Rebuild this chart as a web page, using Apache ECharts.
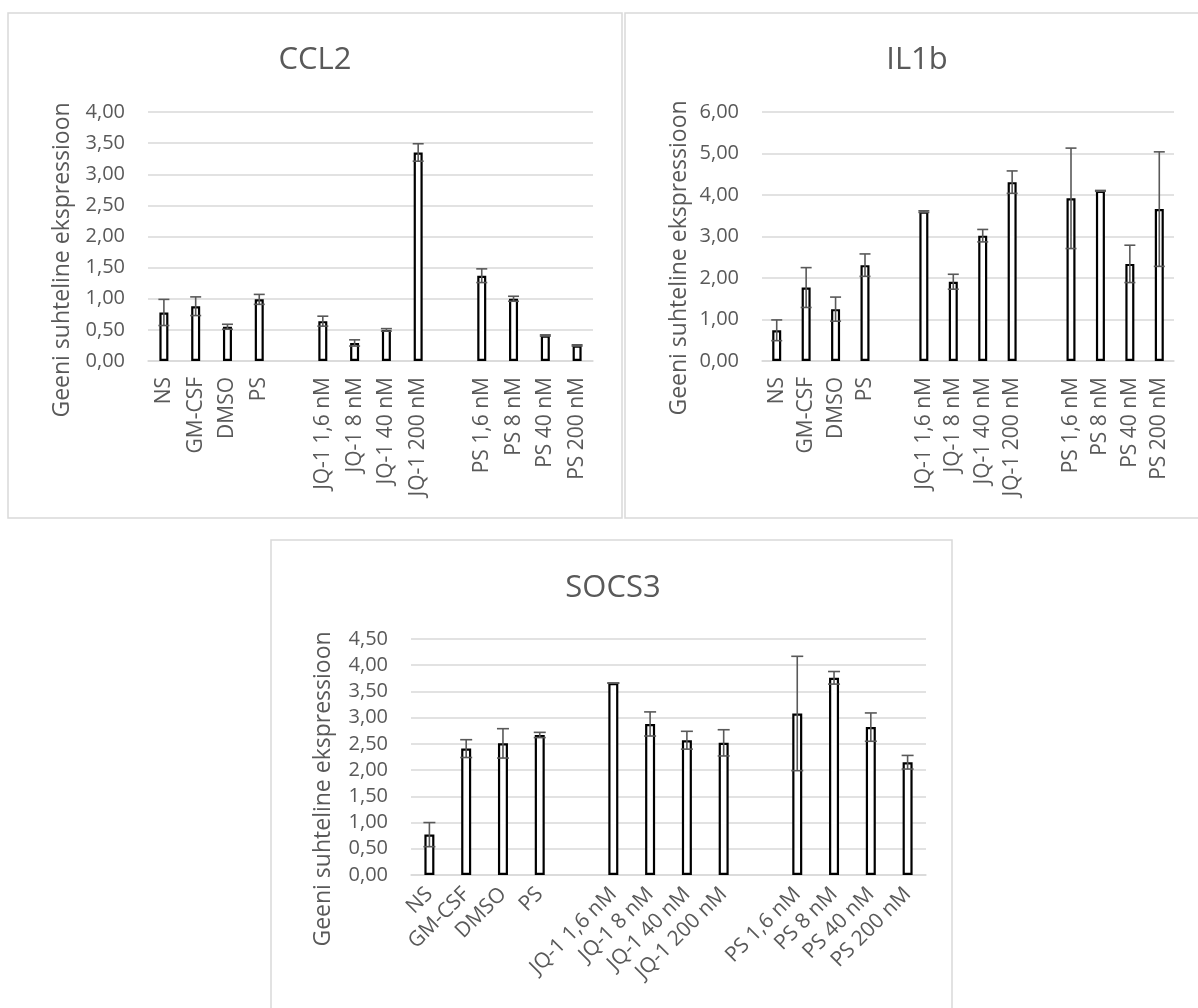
<!DOCTYPE html>
<html>
<head>
<meta charset="utf-8">
<script src="https://cdn.jsdelivr.net/npm/echarts@6/dist/echarts.min.js"></script>
<style>
html,body{margin:0;padding:0;background:#fff;overflow:hidden;}
#c{width:1198px;height:1008px;}
</style>
</head>
<body>
<div id="c"></div>
<script>
// Categories (blank entries are the empty spacer categories in the original chart)
const categories = ['NS','GM-CSF','DMSO','PS','','JQ-1 1,6 nM','JQ-1 8 nM','JQ-1 40 nM','JQ-1 200 nM','','PS 1,6 nM','PS 8 nM','PS 40 nM','PS 200 nM'];

// CCL2
const ccl2Values = [0.78, 0.88, 0.55, 0.99, null, 0.64, 0.29, 0.50, 3.35, null, 1.37, 1.00, 0.41, 0.25];
const ccl2Errors = [0.21, 0.15, 0.04, 0.08, null, 0.08, 0.05, 0.02, 0.14, null, 0.11, 0.04, 0.01, 0.01];
// IL1b
const il1bValues = [0.74, 1.77, 1.25, 2.31, null, 3.60, 1.91, 3.02, 4.31, null, 3.92, 4.10, 2.34, 3.66];
const il1bErrors = [0.25, 0.48, 0.29, 0.27, null, 0.02, 0.18, 0.15, 0.27, null, 1.21, 0.01, 0.45, 1.38];
// SOCS3
const socs3Values = [0.77, 2.41, 2.51, 2.67, null, 3.66, 2.88, 2.57, 2.52, null, 3.08, 3.76, 2.82, 2.15];
const socs3Errors = [0.23, 0.17, 0.28, 0.05, null, 0.00, 0.23, 0.17, 0.25, null, 1.09, 0.12, 0.27, 0.13];

const titles = ['CCL2', 'IL1b', 'SOCS3'];
const yAxisTitle = 'Geeni suhteline ekspressioon';
const yMax = [4, 6, 4.5];
const yInterval = [0.5, 1, 0.5];

const FONT = 'Open Sans';
const TXT = '#595959';
const GRID = '#d9d9d9';

function fmt(v){ return v.toFixed(2).replace('.', ','); }

function errData(vals, errs){
  const out = [];
  vals.forEach((v,i)=>{ if(v!==null && v!==undefined) out.push([i, v, errs[i]]); });
  return out;
}

function makeErrRender(half){
  return function(params, api){
    const x = api.value(0), v = api.value(1), e = api.value(2);
    const top = api.coord([x, v + e]);
    const bot = api.coord([x, v - e]);
    const st = {stroke:'#595959', lineWidth:1.6, fill:null};
    return {type:'group', children:[
      {type:'line', shape:{x1:top[0], y1:top[1], x2:bot[0], y2:bot[1]}, style:st},
      {type:'line', shape:{x1:top[0]-half, y1:top[1], x2:top[0]+half, y2:top[1]}, style:st},
      {type:'line', shape:{x1:bot[0]-half, y1:bot[1], x2:bot[0]+half, y2:bot[1]}, style:st}
    ]};
  };
}

const grids = [
  {left:148, top:112, width:445, height:249},
  {left:762, top:112, width:412, height:249},
  {left:411, top:639, width:515, height:236}
];

const valueSets = [ccl2Values, il1bValues, socs3Values];
const errSets = [ccl2Errors, il1bErrors, socs3Errors];
const barWidths = [9, 9, 10];
const rotations = [90, 90, 45];

const xAxes = [], yAxes = [], series = [];
for (let k=0;k<3;k++){
  xAxes.push({
    type:'category', gridIndex:k, data:categories,
    axisLine:{show:true, lineStyle:{color:GRID, width:1.5}},
    axisTick:{show:false},
    axisLabel:{interval:0, rotate:rotations[k], color:TXT, fontFamily:FONT, fontSize:21, margin: k===2 ? 16 : 16}
  });
  yAxes.push({
    type:'value', gridIndex:k, min:0, max:yMax[k], interval:yInterval[k],
    axisLine:{show:false}, axisTick:{show:false},
    splitLine:{lineStyle:{color:GRID, width:1.5}},
    axisLabel:{formatter:fmt, color:TXT, fontFamily:FONT, fontSize:20, margin:23}
  });
  series.push({
    type:'bar', xAxisIndex:k, yAxisIndex:k,
    data: valueSets[k].map(v => v===null ? '-' : v),
    barWidth: barWidths[k],
    itemStyle:{color:'#ffffff', borderColor:'#000000', borderWidth:2.2},
    silent:true
  });
  series.push({
    type:'custom', xAxisIndex:k, yAxisIndex:k,
    data: errData(valueSets[k], errSets[k]),
    encode:{x:0, y:1},
    renderItem: makeErrRender(k===2 ? 6 : 5.5),
    z:5, silent:true
  });
}

const graphic = [
  {type:'rect', shape:{x:8, y:13, width:614, height:505}, style:{fill:null, stroke:GRID, lineWidth:1.5}, silent:true},
  {type:'rect', shape:{x:625, y:13, width:600, height:505}, style:{fill:null, stroke:GRID, lineWidth:1.5}, silent:true},
  {type:'rect', shape:{x:271, y:540, width:681, height:520}, style:{fill:null, stroke:GRID, lineWidth:1.5}, silent:true},
  {type:'text', x:315, y:60, style:{text:titles[0], fill:TXT, font:'31px "Open Sans"', align:'center', verticalAlign:'middle'}},
  {type:'text', x:917, y:60, style:{text:titles[1], fill:TXT, font:'31px "Open Sans"', align:'center', verticalAlign:'middle'}},
  {type:'text', x:613, y:588, style:{text:titles[2], fill:TXT, font:'31px "Open Sans"', align:'center', verticalAlign:'middle'}},
  {type:'text', x:62, y:260, rotation:Math.PI/2, style:{text:yAxisTitle, fill:TXT, font:'23px "Open Sans"', align:'center', verticalAlign:'middle'}},
  {type:'text', x:679, y:258, rotation:Math.PI/2, style:{text:yAxisTitle, fill:TXT, font:'23px "Open Sans"', align:'center', verticalAlign:'middle'}},
  {type:'text', x:323, y:789, rotation:Math.PI/2, style:{text:yAxisTitle, fill:TXT, font:'23px "Open Sans"', align:'center', verticalAlign:'middle'}}
];

const chart = echarts.init(document.getElementById('c'), null, {renderer:'canvas'});
chart.setOption({
  animation:false,
  backgroundColor:'#ffffff',
  grid:grids,
  xAxis:xAxes,
  yAxis:yAxes,
  series:series,
  graphic:graphic
});
</script>
</body>
</html>
